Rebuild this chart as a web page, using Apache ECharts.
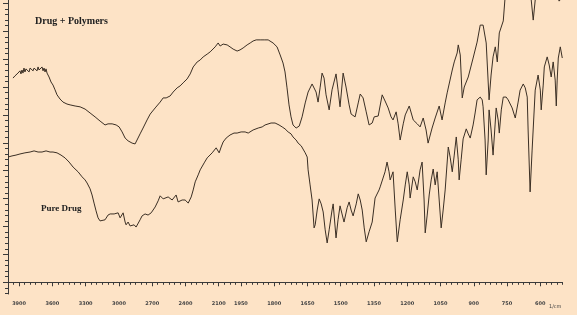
<!DOCTYPE html>
<html>
<head>
	<meta charset="utf-8"/>
	<title>FTIR</title>
	<style type="text/css">
		html, body { margin: 0; padding: 0; background: #fde3c6; }
		#chart { width: 577px; height: 315px; }
	</style>
</head>
<body>
	<div id="chart"></div>
	<script src="https://cdn.jsdelivr.net/npm/echarts@6/dist/echarts.min.js"></script>
	<script type="text/javascript">

		// wavenumber tick labels (1/cm)
		var wnLabels = [3900, 3600, 3300, 3000, 2700, 2400, 2100, 1950, 1800, 1650, 1500, 1350, 1200, 1050, 900, 750, 600];

		// Drug + Polymers : [wavenumber, %T]
		var drugPolymers = [
			[3955,73.2],[3937,74.0],[3928,74.7],[3919,73.6],[3910,75.0],[3901,74.3],[3892,75.8],[3883,74.7],[3874,76.1],[3865,75.0],
			[3856,76.8],[3847,75.4],[3838,76.5],[3829,75.8],[3820,77.2],[3810,75.4],[3801,76.8],[3792,76.1],[3783,77.2],[3774,75.8],
			[3765,76.8],[3756,76.1],[3747,77.5],[3738,75.8],[3729,77.2],[3720,76.1],[3711,76.8],[3702,75.4],[3693,77.2],[3684,75.8],
			[3675,76.8],[3666,75.4],[3657,76.5],[3648,75.0],[3639,75.4],[3630,73.6],[3621,74.0],[3612,71.8],[3594,70.7],[3576,69.0],
			[3558,67.2],[3531,65.7],[3504,64.6],[3468,63.9],[3440,63.6],[3395,63.2],[3350,62.9],[3305,62.1],[3260,60.7],[3215,59.3],
			[3170,57.8],[3125,56.4],[3098,56.8],[3061,56.8],[3025,56.4],[2998,55.7],[2971,53.9],[2944,51.7],[2917,50.7],[2881,49.9],
			[2854,49.6],[2836,50.3],[2809,53.2],[2782,55.3],[2746,58.2],[2718,60.3],[2673,62.5],[2628,64.6],[2601,66.1],[2574,66.1],
			[2538,66.8],[2511,68.2],[2475,69.7],[2448,70.4],[2421,71.5],[2385,72.9],[2357,74.7],[2330,77.2],[2294,79.0],[2267,79.7],
			[2240,80.8],[2204,81.8],[2177,82.6],[2159,83.3],[2132,84.4],[2105,85.8],[2087,84.7],[2060,85.4],[2024,85.1],[1999,84.4],
			[1985,83.6],[1967,82.9],[1954,83.3],[1940,84.0],[1922,85.1],[1908,85.8],[1895,86.5],[1881,86.9],[1872,87.2],[1863,86.9],
			[1854,87.6],[1845,86.9],[1836,87.6],[1827,86.9],[1818,86.5],[1805,85.8],[1787,84.4],[1773,81.5],[1760,78.6],[1751,75.4],
			[1742,69.7],[1733,63.6],[1724,59.3],[1715,56.4],[1701,55.3],[1687,56.0],[1674,59.3],[1660,64.3],[1647,68.2],[1629,71.1],
			[1620,70.7],[1611,68.2],[1602,64.6],[1593,69.7],[1584,75.0],[1575,73.2],[1566,67.2],[1552,61.8],[1539,69.0],[1521,74.7],
			[1512,69.0],[1503,62.9],[1489,75.0],[1476,70.0],[1462,63.6],[1453,60.3],[1435,59.3],[1421,64.3],[1412,67.5],[1399,66.1],
			[1385,61.1],[1372,56.4],[1358,57.1],[1349,59.3],[1340,58.6],[1331,59.6],[1313,67.2],[1300,65.0],[1286,62.5],[1273,59.3],
			[1264,58.2],[1250,61.1],[1241,56.8],[1232,51.0],[1218,56.8],[1209,60.0],[1191,63.2],[1173,58.2],[1155,56.8],[1142,55.7],
			[1128,58.9],[1115,54.6],[1106,49.9],[1088,55.3],[1074,58.9],[1056,63.2],[1043,58.2],[1029,64.3],[1020,67.9],[997,76.1],
			[988,79.0],[975,82.2],[970,85.1],[961,81.5],[952,66.1],[943,70.0],[925,73.6],[903,80.4],[885,86.1],[871,92.2],
			[858,92.2],[844,85.8],[831,65.4],[822,74.3],[813,80.8],[803,84.4],[794,79.0],[785,89.4],[767,93.7],[758,103.0],
			[736,110.2],[691,112.0],[655,106.6],[641,101.2],[632,94.0],[623,101.2],[600,108.4],[555,108.4],[528,103.0],[515,100.8],
			[501,102.3]
		];

		// Pure Drug : [wavenumber, %T]
		var pureDrug = [
			[4000,44.9],[3964,45.3],[3928,45.6],[3892,46.0],[3847,46.4],[3801,46.7],[3765,47.1],[3729,46.7],[3711,47.1],[3693,46.7],
			[3675,47.4],[3657,47.1],[3639,47.4],[3621,46.7],[3594,46.7],[3558,46.4],[3522,45.6],[3486,44.6],[3449,43.1],[3413,41.3],
			[3368,39.6],[3332,37.8],[3305,36.7],[3287,35.6],[3260,33.5],[3242,31.3],[3224,28.4],[3206,25.6],[3188,23.1],[3170,22.0],
			[3152,21.3],[3125,22.4],[3098,24.1],[3079,24.5],[3061,24.1],[3043,24.5],[3025,23.8],[3007,24.9],[2989,23.1],[2980,22.4],
			[2962,24.9],[2944,21.6],[2935,20.6],[2917,21.6],[2899,20.2],[2881,19.5],[2863,20.6],[2845,19.8],[2827,20.2],[2809,22.4],
			[2791,23.8],[2764,24.5],[2737,24.1],[2709,24.9],[2673,27.0],[2646,29.2],[2628,31.0],[2601,29.9],[2583,29.5],[2556,30.6],
			[2538,31.0],[2520,29.5],[2502,29.9],[2484,31.3],[2466,28.8],[2430,29.5],[2403,29.5],[2375,28.4],[2348,30.6],[2330,33.1],
			[2312,36.0],[2285,38.5],[2267,40.3],[2231,42.8],[2204,44.6],[2159,46.4],[2123,48.2],[2096,46.4],[2078,48.5],[2060,50.3],
			[2033,51.7],[1999,52.8],[1981,53.5],[1967,53.5],[1949,53.9],[1931,53.9],[1917,53.5],[1908,52.8],[1895,54.6],[1886,55.3],
			[1872,55.3],[1854,55.7],[1841,56.4],[1832,56.8],[1814,57.1],[1796,57.1],[1778,56.4],[1764,55.7],[1751,55.0],[1737,53.9],
			[1724,53.2],[1715,52.1],[1701,51.0],[1692,49.9],[1678,48.9],[1669,48.5],[1660,46.4],[1651,44.9],[1647,40.3],[1638,34.9],
			[1629,29.5],[1620,19.5],[1615,20.6],[1606,25.9],[1597,29.9],[1588,28.1],[1579,25.2],[1570,18.8],[1561,14.1],[1552,18.8],
			[1539,25.9],[1534,28.1],[1521,15.9],[1512,22.4],[1503,27.4],[1494,24.5],[1485,21.6],[1471,26.7],[1462,28.8],[1453,25.9],
			[1444,23.8],[1430,28.1],[1421,31.7],[1412,29.5],[1403,25.9],[1394,19.5],[1385,14.5],[1372,18.1],[1358,21.6],[1345,30.2],
			[1336,30.6],[1327,33.1],[1322,34.2],[1313,33.8],[1300,39.6],[1291,43.1],[1282,39.6],[1277,36.7],[1264,39.6],[1254,25.9],
			[1245,14.5],[1232,22.4],[1218,29.5],[1209,34.9],[1200,39.6],[1191,34.9],[1187,30.2],[1173,37.8],[1164,36.0],[1155,33.1],
			[1142,40.3],[1133,43.1],[1124,29.5],[1119,17.7],[1110,24.1],[1101,31.3],[1092,36.7],[1083,40.6],[1074,34.9],[1065,39.6],
			[1056,29.5],[1047,19.5],[1038,25.9],[1029,33.1],[1015,48.5],[1006,44.6],[997,39.6],[988,45.6],[979,52.1],[970,43.9],
			[966,36.7],[957,43.9],[948,51.4],[934,55.0],[925,53.2],[916,51.7],[903,56.4],[894,60.7],[885,65.4],[871,66.4],
			[862,65.4],[858,62.9],[849,51.0],[844,38.5],[835,51.0],[831,61.8],[822,54.6],[813,45.6],[804,56.4],[799,62.5],
			[790,58.2],[785,53.5],[776,61.8],[767,66.4],[754,66.4],[745,65.4],[727,62.5],[713,58.9],[700,64.6],[691,68.9],
			[677,71.1],[668,69.7],[659,66.4],[655,54.6],[646,32.4],[637,47.4],[623,68.9],[610,74.3],[600,68.9],[596,61.8],
			[587,70.7],[582,77.2],[569,80.8],[560,77.9],[551,73.6],[542,79.0],[533,72.5],[528,63.2],[524,72.5],[519,80.4],
			[510,84.4],[501,80.4]
		];

		// x scale halves above 2000 1/cm
		function toU(wn){ return wn >= 2000 ? (4000 - wn) / 2 : 1000 + (2000 - wn); }
		function fromU(u){ return u <= 1000 ? 4000 - 2 * u : 3000 - u; }
		function mapSeries(arr){ return arr.map(function(p){ return [toU(p[0]), p[1]]; }); }

		var minorX = [];
		for (var u = 0; u <= 2500; u += 25) minorX.push(u);
		var majorY = [], minorY = [];
		for (var t = -4; t <= 100; t += 2) { if (t % 10 === 0) majorY.push(t); else minorY.push(t); }

		var lineColor = '#3b2f24';
		var axisColor = '#3a3a3a';
		var grid = { left: 8, right: 14.5, top: 0, bottom: 21 };

		var chart = echarts.init(document.getElementById('chart'));
		chart.setOption({
			backgroundColor: '#fde3c6',
			animation: false,
			grid: grid,
			xAxis: [
				{
					type: 'value', min: 0, max: 2500, position: 'bottom',
					axisLine: { lineStyle: { color: axisColor, width: 1 } },
					axisTick: { show: true, length: 2.5, customValues: minorX, lineStyle: { color: axisColor } },
					axisLabel: { show: false },
					splitLine: { show: false }
				},
				{
					type: 'value', min: 0, max: 2500, position: 'bottom',
					axisLine: { show: false },
					axisTick: { show: true, length: 4, customValues: wnLabels.map(toU), lineStyle: { color: axisColor } },
					axisLabel: {
						show: true, customValues: wnLabels.map(toU), margin: 7,
						fontSize: 5, fontWeight: 'bold', color: '#444', fontFamily: 'DejaVu Sans',
						formatter: function(v){ return String(Math.round(fromU(v))); }
					},
					splitLine: { show: false }
				}
			],
			yAxis: [
				{
					type: 'value', min: -4.2, max: 101.2, position: 'left',
					axisLine: { show: true, lineStyle: { color: axisColor, width: 1 } },
					axisTick: { show: true, length: 5, customValues: majorY, lineStyle: { color: axisColor } },
					axisLabel: { show: false },
					splitLine: { show: false }
				},
				{
					type: 'value', min: -4.2, max: 101.2, position: 'left',
					axisLine: { show: false },
					axisTick: { show: true, length: 3, customValues: minorY, lineStyle: { color: axisColor } },
					axisLabel: { show: false },
					splitLine: { show: false }
				}
			],
			graphic: [
				{ type: 'text', left: 35, top: 16, style: { text: 'Drug + Polymers', fill: '#222', font: 'bold 10px "Liberation Serif"' } },
				{ type: 'text', left: 41, top: 204, style: { text: 'Pure Drug', fill: '#222', font: 'bold 9px "Liberation Serif"' } },
				{ type: 'text', left: 549, top: 304, style: { text: '1/cm', fill: '#444', font: '5px "DejaVu Sans"' } }
			],
			series: [
				{
					name: 'Drug + Polymers', type: 'line', symbol: 'none', data: mapSeries(drugPolymers),
					lineStyle: { color: lineColor, width: 1 }
				},
				{
					name: 'Pure Drug', type: 'line', symbol: 'none', data: mapSeries(pureDrug),
					lineStyle: { color: lineColor, width: 1 }
				}
			]
		});
	</script>
</body>
</html>
